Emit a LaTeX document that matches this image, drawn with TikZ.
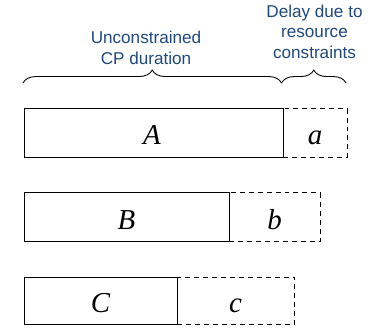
\documentclass[tikz,border=0pt]{standalone}
\usepackage{fontspec}
\setmainfont{Liberation Serif}
\newfontfamily\labelfont{Liberation Sans}
\usetikzlibrary{decorations.pathreplacing}
\definecolor{labelblue}{HTML}{1F497D}
\tikzset{
  solidbox/.style={draw=black, line width=0.9pt, fill=white, inner sep=0pt, anchor=north west},
  dashbox/.style={draw=black, line width=0.9pt, dash pattern=on 5pt off 4pt, inner sep=0pt, anchor=north west},
  letter/.style={anchor=base, inner sep=0pt, font=\fontsize{29}{29}\selectfont\itshape},
  toplabel/.style={anchor=base, inner sep=0pt, align=center, text=labelblue, font=\labelfont\fontsize{17.2}{20.5}\selectfont},
  bracedraw/.style={draw=black, line width=0.9pt, decorate, decoration={brace, amplitude=13pt}}
}
\begin{document}
\begin{tikzpicture}[x=1bp, y=-1bp]
\useasboundingbox (0,0) rectangle (372,332);
% row A
\node[dashbox, minimum width=64bp, minimum height=48.4bp] (da) at (283,108.3) {};
\node[solidbox, minimum width=259bp, minimum height=48.4bp] (ba) at (24,108.3) {};
\node[letter] (la) at (152,144.3) {A};
\node[letter] (lsa) at (315,144.3) {a};
% row B
\node[dashbox, minimum width=91bp, minimum height=48.4bp] (db) at (229,192.3) {};
\node[solidbox, minimum width=205bp, minimum height=48.4bp] (bb) at (24,192.3) {};
\node[letter] (lb) at (126.5,229.3) {B};
\node[letter] (lsb) at (274.5,229.3) {b};
% row C
\node[dashbox, minimum width=117bp, minimum height=47.6bp] (dc) at (177,276.7) {};
\node[solidbox, minimum width=153bp, minimum height=47.6bp] (bc) at (24,276.7) {};
\node[letter] (lc) at (100.5,312.3) {C};
\node[letter] (lsc) at (235.5,312.3) {c};
% braces
\coordinate (br1) at (23,83);
\coordinate (br2) at (281.5,83);
\coordinate (br3) at (346,83);
\draw[bracedraw] (br1) -- (br2);
\draw[bracedraw] (br2) -- (br3);
% labels (base = baseline of last line)
\node[toplabel] (t1) at (146,64) {Unconstrained\\CP duration};
\node[toplabel] (t2) at (314.5,58.3) {Delay due to\\resource\\constraints};
\end{tikzpicture}
\end{document}
